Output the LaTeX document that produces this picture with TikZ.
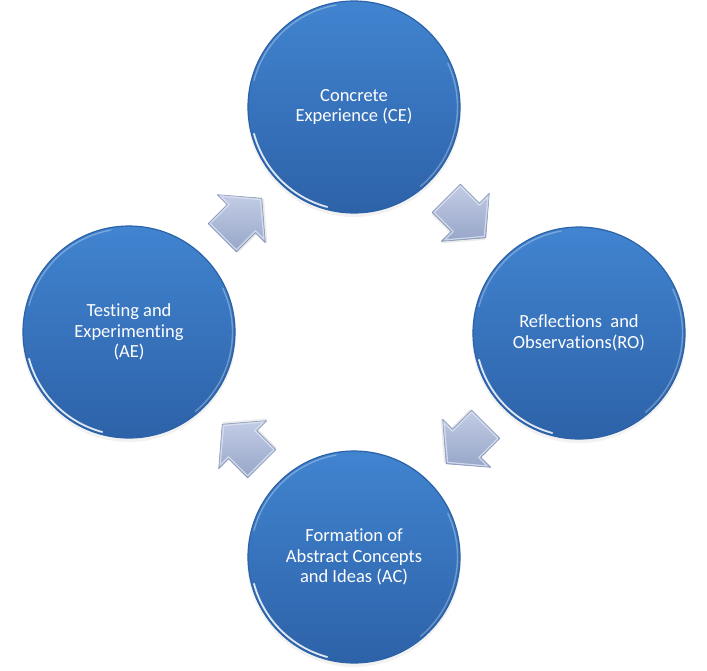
\documentclass[tikz,border=0pt]{standalone}
\usepackage{fontspec}
\setmainfont{Carlito}[Ligatures={NoCommon,NoContextual}]
\definecolor{ctop}{HTML}{4184D0}
\definecolor{cbot}{HTML}{2D62A8}
\definecolor{crim}{HTML}{2C62A8}
\definecolor{atop}{HTML}{C2CCE5}
\definecolor{abot}{HTML}{97A6C8}
\definecolor{aedge}{HTML}{7F8FB3}
\definecolor{abev}{HTML}{DCE3F1}
\begin{document}
\begin{tikzpicture}[x=1pt,y=-1pt,
  bubble/.style={circle, minimum size=212pt, inner sep=0pt,
    top color=ctop, bottom color=cbot, draw=crim, line width=1.2pt,
    text=white, align=center, font=\fontsize{18.5}{20.5}\selectfont},
  glint/.style={white, line width=1.8pt, line cap=round, opacity=0.85},
  softglint/.style={white, line width=1.4pt, line cap=round, opacity=0.3},
  blockarrow/.style={top color=atop, bottom color=abot, draw=aedge, line width=0.5pt, line join=round},
  bevel/.style={abev, line width=1.2pt, opacity=0.8, line join=round}]
\useasboundingbox (0,0) rectangle (707,670);
\fill[white] (0,0) rectangle (707,670);

% shadows
\foreach \p in {(354,107),(579,333),(129,332),(354,557)}
  \fill[black, opacity=0.05] \p ++(0,3) circle[radius=107pt];

\node[bubble] (ce) at (354,107) {Concrete\\Experience (CE)};
\node[bubble] (ro) at (579,333) {Reflections~ and\\Observations(RO)};
\node[bubble] (ac) at (354,557) {Formation of\\Abstract Concepts\\and Ideas (AC)};
\node[bubble] (ae) at (129,332) {Testing and\\Experimenting\\(AE)};

\foreach \n in {ce,ro,ac,ae}{
  \draw[glint] ([shift={(195:103.5pt)}]\n.center) arc[start angle=195,end angle=255,radius=103.5pt];
  \draw[softglint] ([shift={(100:103.5pt)}]\n.center) arc[start angle=100,end angle=165,radius=103.5pt];
  \draw[softglint] ([shift={(-50:103.5pt)}]\n.center) arc[start angle=-50,end angle=25,radius=103.5pt];
}

\coordinate (a1) at (242,218);
\coordinate (a2) at (466,218);
\coordinate (a3) at (466,444);
\coordinate (a4) at (242,444);

\foreach \c/\ang in {a1/45,a2/-45,a3/-135,a4/135}{
  \begin{scope}[shift={(\c)}, rotate=\ang, x=1pt, y=1pt]
    \fill[black, opacity=0.08] (-27,-22) -- (0,-22) -- (0,-36) -- (29,-2) -- (0,32) -- (0,18) -- (-27,18) -- cycle;
    \path[blockarrow] (-28,-20) -- (-1,-20) -- (-1,-34) -- (28,0) -- (-1,34) -- (-1,20) -- (-28,20) -- cycle;
    \draw[bevel] (-26.5,-18.5) -- (0.5,-18.5) -- (0.5,-30.5) -- (26,0) -- (0.5,30.5) -- (0.5,18.5) -- (-26.5,18.5) -- cycle;
  \end{scope}
}
\end{tikzpicture}
\end{document}
